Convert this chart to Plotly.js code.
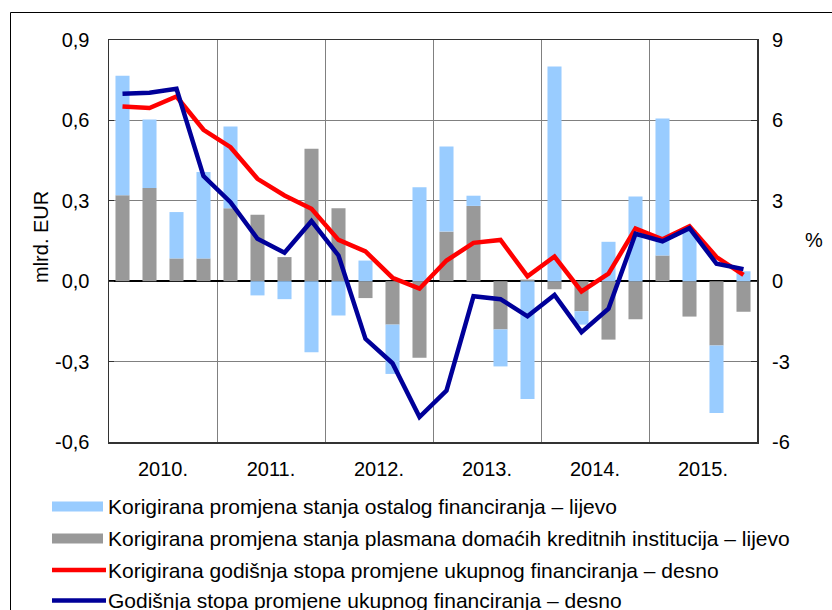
<!DOCTYPE html>
<html>
<head>
<meta charset="utf-8">
<script src="https://cdn.plot.ly/plotly-3.0.1.min.js"></script>
<style>
html,body{margin:0;padding:0;background:#fff;}
#chart{width:832px;height:610px;}
</style>
</head>
<body>
<div id="chart"></div>
<script>
// ---- data ----
const quarters = ['2010 Q1','2010 Q2','2010 Q3','2010 Q4','2011 Q1','2011 Q2','2011 Q3','2011 Q4',
  '2012 Q1','2012 Q2','2012 Q3','2012 Q4','2013 Q1','2013 Q2','2013 Q3','2013 Q4',
  '2014 Q1','2014 Q2','2014 Q3','2014 Q4','2015 Q1','2015 Q2','2015 Q3','2015 Q4'];
const yearLabels = ['2010.','2011.','2012.','2013.','2014.','2015.'];
const domesticCredit = [0.321,0.348,0.085,0.085, 0.272,0.248,0.090,0.494,
  0.272,-0.063,-0.162,-0.286, 0.185,0.281,-0.180,0.006,
  -0.030,-0.112,-0.218,-0.142, 0.096,-0.132,-0.240,-0.114];
const otherFinancing = [0.446,0.255,0.173,0.322, 0.305,-0.053,-0.067,-0.265,
  -0.128,0.077,-0.184,0.351, 0.318,0.038,-0.138,-0.440,
  0.801,-0.050,0.147,0.316, 0.511,0.190,-0.252,0.037];
const adjustedRate = [6.52,6.46,6.89,5.65, 5.00,3.82,3.20,2.70,
  1.54,1.11,0.13,-0.28, 0.77,1.43,1.54,0.18,
  0.92,-0.38,0.28,1.96, 1.56,2.05,0.90,0.24];
const totalRate = [6.99,7.03,7.18,3.92, 2.95,1.58,1.06,2.24,
  0.96,-2.15,-3.06,-5.07, -4.08,-0.56,-0.67,-1.31,
  -0.51,-1.90,-1.03,1.77, 1.49,1.98,0.65,0.45];
const leftTicks = [-0.6,-0.3,0,0.3,0.6,0.9];
const leftTickText = ['-0,6','-0,3','0,0','0,3','0,6','0,9'];
const rightTicks = [-6,-3,0,3,6,9];
const rightTickText = ['-6','-3','0','3','6','9'];
const seriesNames = [
  'Korigirana promjena stanja ostalog financiranja – lijevo',
  'Korigirana promjena stanja plasmana domaćih kreditnih institucija – lijevo',
  'Korigirana godišnja stopa promjene ukupnog financiranja – desno',
  'Godišnja stopa promjene ukupnog financiranja – desno'
];
const colors = ['#99ccff','#999999','#ff0000','#000099'];

// ---- geometry ----
const W = 832, H = 610;
const L = 109, R = 757, T = 40, B = 442;
const PW = R - L, PH = B - T;
const px = v => (v - L) / PW;
const py = v => (B - v) / PH;

const xIdx = quarters.map((q, i) => i);
const yearCenters = yearLabels.map((y, i) => i * 4 + 1.5);

const font = 'Liberation Sans, Arial, sans-serif';

const traces = [
  {type:'bar', x:xIdx, y:domesticCredit, name:seriesNames[1], marker:{color:colors[1]}, yaxis:'y', showlegend:false, hoverinfo:'skip'},
  {type:'bar', x:xIdx, y:otherFinancing, name:seriesNames[0], marker:{color:colors[0]}, yaxis:'y', showlegend:false, hoverinfo:'skip'},
  {type:'scatter', mode:'lines', x:xIdx, y:adjustedRate, name:seriesNames[2], line:{color:colors[2], width:4.5}, yaxis:'y2', showlegend:false},
  {type:'scatter', mode:'lines', x:xIdx, y:totalRate, name:seriesNames[3], line:{color:colors[3], width:4.5}, yaxis:'y2', showlegend:false}
];

// legend drawn manually
const legendY = [506.5, 538.5, 570, 600.5];
const shapes = [
  {type:'rect', xref:'paper', yref:'paper', x0:px(10.5), x1:px(860), y0:py(12.5), y1:py(640), line:{color:'#000', width:1}, fillcolor:'rgba(0,0,0,0)', layer:'below'}
];
const annotations = [];
legendY.forEach((yy, i) => {
  if (i < 2) {
    shapes.push({type:'rect', xref:'paper', yref:'paper', x0:px(52), x1:px(103), y0:py(yy+5), y1:py(yy-5), line:{width:0}, fillcolor:colors[i]});
  } else {
    shapes.push({type:'line', xref:'paper', yref:'paper', x0:px(52), x1:px(106), y0:py(yy), y1:py(yy), line:{color:colors[i], width:4.5}});
  }
  annotations.push({xref:'paper', yref:'paper', x:px(106), y:py(yy), xanchor:'left', yanchor:'middle', text:seriesNames[i], showarrow:false, font:{family:font, size:21, color:'#000'}});
});
annotations.push({xref:'paper', yref:'paper', x:px(41), y:py(237), text:'mlrd. EUR', textangle:-90, showarrow:false, xanchor:'center', yanchor:'middle', font:{family:font, size:20, color:'#000'}});
annotations.push({xref:'paper', yref:'paper', x:px(814), y:py(240), text:'%', showarrow:false, xanchor:'center', yanchor:'middle', font:{family:font, size:20, color:'#000'}});

const layout = {
  width:W, height:H,
  margin:{l:L, r:W-R, t:T, b:H-B, pad:0},
  paper_bgcolor:'#fff', plot_bgcolor:'#fff',
  font:{family:font, size:20, color:'#000'},
  barmode:'relative', bargap:0.48,
  showlegend:false,
  xaxis:{
    range:[-0.5, 23.5], tickmode:'array', tickvals:yearCenters, ticktext:yearLabels,
    showgrid:false, zeroline:false, ticks:'', ticklabelstandoff:8,
    showline:true, mirror:true, linecolor:'#333', linewidth:1.5,
    minor:{tick0:-0.5, dtick:4, showgrid:true, gridcolor:'#808080', gridwidth:1, ticks:''},
    tickfont:{family:font, size:20, color:'#000'}
  },
  yaxis:{
    range:[-0.6, 0.9], tickmode:'array', tickvals:leftTicks, ticktext:leftTickText,
    showgrid:true, gridcolor:'#808080', gridwidth:1,
    zeroline:true, zerolinecolor:'#000', zerolinewidth:1.5,
    showline:true, mirror:true, linecolor:'#333', linewidth:1.5,
    ticks:'inside', ticklen:5, tickcolor:'#333', ticklabelstandoff:14,
    tickfont:{family:font, size:20, color:'#000'}
  },
  yaxis2:{
    range:[-6, 9], tickmode:'array', tickvals:rightTicks, ticktext:rightTickText,
    overlaying:'y', side:'right', showgrid:false, zeroline:false,
    ticks:'inside', ticklen:6, tickcolor:'#333', ticklabelstandoff:14,
    tickfont:{family:font, size:20, color:'#000'}
  },
  shapes:shapes,
  annotations:annotations
};

Plotly.newPlot('chart', traces, layout, {staticPlot:true, displayModeBar:false});
</script>
</body>
</html>
